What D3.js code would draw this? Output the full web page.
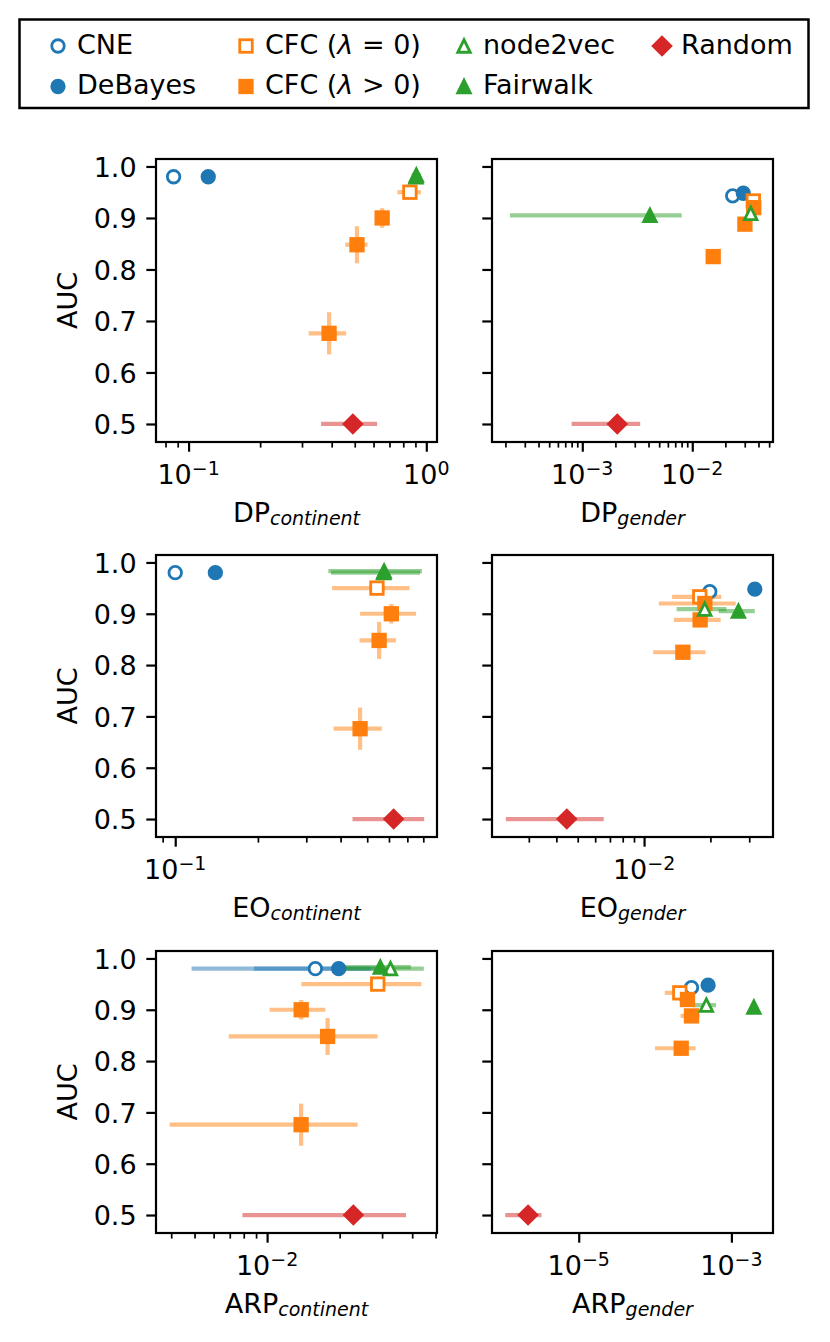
<!DOCTYPE html>
<html>
<head>
<meta charset="utf-8">
<script src="https://cdn.jsdelivr.net/npm/d3@7"></script>
<style>
  body { margin: 0; background: #fff; }
  svg { display: block; }
  text { font-family: "DejaVu Sans", sans-serif; fill: #000; }
</style>
</head>
<body>
<div id="chart"></div>
<script>
// one entry per plotted point, same order in every panel
const pointMethod = ["CNE", "DeBayes", "CFC0", "CFC", "CFC", "CFC", "node2vec", "Fairwalk", "Random"];

// AUC (y) for the continent column and the gender column
const aucContinent    = [0.980, 0.980, 0.950, 0.900, 0.848, 0.676, 0.980, 0.983, 0.500];
const aucContinentErr = [0.002, 0.002, 0.004, 0.019, 0.036, 0.041, 0.002, 0.002, 0.002];
const aucGender       = [0.943, 0.948, 0.933, 0.920, 0.888, 0.825, 0.909, 0.905, 0.500];
const aucGenderErr    = [0.002, 0.002, 0.003, 0.003, 0.003, 0.003, 0.002, 0.002, 0.002];

// fairness metrics (x)
const dpContinent     = [0.0865, 0.121, 0.853, 0.652, 0.511, 0.390, 0.905, 0.908, 0.491];
const dpContinentErr  = [0.001, 0.002, 0.0965, 0.040, 0.055, 0.070, 0.030, 0.040, 0.130];
const dpGender        = [0.0233, 0.0291, 0.0359, 0.0362, 0.0301, 0.0155, 0.0340, 0.00412, 0.00208];
const dpGenderErr     = [0.0004, 0.0005, 0.0010, 0.0010, 0.0012, 0.0006, 0.0010, 0.0039, 0.00128];

const eoContinent     = [0.100, 0.140, 0.5425, 0.612, 0.5525, 0.471, 0.574, 0.576, 0.624];
const eoContinentErr  = [0.001, 0.002, 0.170, 0.141, 0.0835, 0.094, 0.205, 0.215, 0.182];
const eoGender        = [0.01987, 0.0318, 0.0179, 0.01887, 0.01796, 0.0150, 0.01885, 0.0268, 0.00446];
const eoGenderErr     = [0.0003, 0.0004, 0.0045, 0.0072, 0.0043, 0.0040, 0.0048, 0.0050, 0.0021];

const arpContinent    = [0.01586, 0.01982, 0.02878, 0.01385, 0.01783, 0.01384, 0.0325, 0.0295, 0.0228];
const arpContinentErr = [0.0110, 0.0110, 0.0149, 0.0036, 0.0109, 0.0099, 0.0122, 0.0100, 0.0149];
const arpGender       = [3.0e-4, 4.95e-4, 2.11e-4, 2.66e-4, 3.0e-4, 2.2e-4, 4.7e-4, 1.97e-3, 2.17e-6];
const arpGenderErr    = [1e-5, 2e-5, 7.7e-5, 6e-5, 8.4e-5, 1.2e-4, 1.6e-4, 2e-4, 1.08e-6];

const yTicks = [0.5, 0.6, 0.7, 0.8, 0.9, 1.0];

// legend, in column order
const legendMethods = ["CNE", "DeBayes", "CFC0", "CFC", "node2vec", "Fairwalk", "Random"];

const styles = {
  CNE:      { shape: "circle",   color: "#1f77b4", open: true },
  DeBayes:  { shape: "circle",   color: "#1f77b4", open: false },
  CFC0:     { shape: "square",   color: "#ff7f0e", open: true },
  CFC:      { shape: "square",   color: "#ff7f0e", open: false },
  node2vec: { shape: "triangle", color: "#2ca02c", open: true },
  Fairwalk: { shape: "triangle", color: "#2ca02c", open: false },
  Random:   { shape: "diamond",  color: "#d62728", open: false }
};

const W = 830, H = 1342;
const colX = [[156, 437], [492, 773]];
const rowY = [[159, 442], [555, 837], [951, 1233]];

const panels = [
  { row: 0, col: 0, x: dpContinent,  xe: dpContinentErr,  y: aucContinent, ye: aucContinentErr, dom: [-1.137, 0.045],  dec: [-1, 0],  minor: true,  name: "DP",  sub: "continent" },
  { row: 0, col: 1, x: dpGender,     xe: dpGenderErr,     y: aucGender,    ye: aucGenderErr,    dom: [-3.821, -1.266], dec: [-3, -2], minor: true,  name: "DP",  sub: "gender" },
  { row: 1, col: 0, x: eoContinent,  xe: eoContinentErr,  y: aucContinent, ye: aucContinentErr, dom: [-1.070, -0.047], dec: [-1],     minor: true,  name: "EO",  sub: "continent" },
  { row: 1, col: 1, x: eoGender,     xe: eoGenderErr,     y: aucGender,    ye: aucGenderErr,    dom: [-2.690, -1.415], dec: [-2],     minor: true,  name: "EO",  sub: "gender" },
  { row: 2, col: 0, x: arpContinent, xe: arpContinentErr, y: aucContinent, ye: aucContinentErr, dom: [-2.461, -1.295], dec: [-2],     minor: true,  name: "ARP", sub: "continent" },
  { row: 2, col: 1, x: arpGender,    xe: arpGenderErr,    y: aucGender,    ye: aucGenderErr,    dom: [-6.136, -2.455], dec: [-5, -3], minor: false, name: "ARP", sub: "gender" }
];

const FS = 27;
const MS = 12.5;

const svg = d3.select("#chart").append("svg")
  .attr("width", W).attr("height", H)
  .attr("viewBox", `0 0 ${W} ${H}`);

function marker(sel, method, cx, cy) {
  const st = styles[method];
  const h = MS / 2;
  let el;
  if (st.shape === "circle") {
    el = sel.append("circle").attr("cx", cx).attr("cy", cy).attr("r", h);
  } else if (st.shape === "square") {
    el = sel.append("rect").attr("x", cx - h).attr("y", cy - h).attr("width", MS).attr("height", MS);
  } else if (st.shape === "triangle") {
    el = sel.append("path").attr("d", `M${cx},${cy - h}L${cx + h},${cy + h}L${cx - h},${cy + h}Z`);
  } else {
    const d = MS / Math.SQRT2;
    el = sel.append("path").attr("d", `M${cx},${cy - d}L${cx + d},${cy}L${cx},${cy + d}L${cx - d},${cy}Z`);
  }
  el.attr("fill", st.open ? "#fff" : st.color)
    .attr("stroke", st.color)
    .attr("stroke-width", 2.8)
    .attr("stroke-linejoin", "miter");
}

const sup = k => (k < 0 ? "\u2212" + (-k) : String(k));

panels.forEach(p => {
  const [x0, x1] = colX[p.col];
  const [y0, y1] = rowY[p.row];
  const g = svg.append("g");

  const x = d3.scaleLog().domain([10 ** p.dom[0], 10 ** p.dom[1]]).range([x0, x1]);
  const y = d3.scaleLinear().domain([0.465, 1.0145]).range([y1, y0]);

  const majors = p.dec.map(k => 10 ** k);
  const minors = [];
  if (p.minor) {
    for (let k = Math.floor(p.dom[0]); k <= Math.ceil(p.dom[1]); k++) {
      for (let m = 2; m <= 9; m++) {
        const v = m * 10 ** k;
        if (Math.log10(v) >= p.dom[0] && Math.log10(v) <= p.dom[1]) minors.push(v);
      }
    }
  }

  // x ticks
  const gxMinor = g.append("g").attr("transform", `translate(0,${y1})`)
    .call(d3.axisBottom(x).tickValues(minors).tickSize(5.6).tickFormat(""));
  gxMinor.select(".domain").remove();
  gxMinor.selectAll("line").attr("stroke", "#000").attr("stroke-width", 1.7);

  const gxMajor = g.append("g").attr("transform", `translate(0,${y1})`)
    .call(d3.axisBottom(x).tickValues(majors).tickSize(9.7).tickFormat(""));
  gxMajor.select(".domain").remove();
  gxMajor.selectAll("line").attr("stroke", "#000").attr("stroke-width", 2.2);

  // x tick labels as 10^k
  p.dec.forEach(k => {
    const t = g.append("text")
      .attr("x", x(10 ** k)).attr("y", y1 + 42)
      .attr("text-anchor", "middle")
      .attr("font-size", FS);
    t.append("tspan").text("10");
    t.append("tspan").attr("font-size", 19).attr("dy", -9.3).text(sup(k));
  });

  // y axis
  const gy = g.append("g").attr("transform", `translate(${x0},0)`)
    .call(d3.axisLeft(y).tickValues(yTicks).tickSize(9.7).tickPadding(9.7)
      .tickFormat(p.col === 0 ? d3.format(".1f") : ""));
  gy.select(".domain").remove();
  gy.selectAll("line").attr("stroke", "#000").attr("stroke-width", 2.2);
  gy.selectAll("text")
    .attr("font-size", FS)
    .attr("font-family", "DejaVu Sans")
    .attr("fill", "#000")
    .attr("dy", "0.36em");

  // error bars first
  const bars = g.append("g");
  pointMethod.forEach((m, i) => {
    const color = styles[m].color;
    const lo = Math.max(p.x[i] - p.xe[i], 10 ** (p.dom[0] - 1));
    bars.append("line")
      .attr("x1", x(lo)).attr("x2", x(p.x[i] + p.xe[i]))
      .attr("y1", y(p.y[i])).attr("y2", y(p.y[i]))
      .attr("stroke", color).attr("stroke-opacity", 0.5).attr("stroke-width", 4.2);
    bars.append("line")
      .attr("x1", x(p.x[i])).attr("x2", x(p.x[i]))
      .attr("y1", y(p.y[i] - p.ye[i])).attr("y2", y(p.y[i] + p.ye[i]))
      .attr("stroke", color).attr("stroke-opacity", 0.5).attr("stroke-width", 4.2);
  });

  // markers
  const marks = g.append("g");
  pointMethod.forEach((m, i) => marker(marks, m, x(p.x[i]), y(p.y[i])));

  // frame
  g.append("rect")
    .attr("x", x0).attr("y", y0)
    .attr("width", x1 - x0).attr("height", y1 - y0)
    .attr("fill", "none").attr("stroke", "#000").attr("stroke-width", 2.2);

  // x label
  const xl = g.append("text")
    .attr("x", (x0 + x1) / 2).attr("y", y1 + 79.5)
    .attr("text-anchor", "middle")
    .attr("font-size", FS);
  xl.append("tspan").text(p.name);
  xl.append("tspan").attr("font-size", 19).attr("font-style", "italic").attr("dy", 3).text(p.sub);

  // y label
  if (p.col === 0) {
    g.append("text")
      .attr("transform", `translate(76.5,${(y0 + y1) / 2})rotate(-90)`)
      .attr("text-anchor", "middle")
      .attr("font-size", FS)
      .text("AUC");
  }
});

// legend
const lg = svg.append("g");
lg.append("rect")
  .attr("x", 19.5).attr("y", 19.5).attr("width", 789).attr("height", 88.5)
  .attr("fill", "#fff").attr("stroke", "#000").attr("stroke-width", 2.5);

const legMarkX = [58, 246, 464, 662];
const legTextX = [77, 265, 483, 681];
const legRowY = [46, 86.5];

legendMethods.forEach((m, i) => {
  const c = Math.floor(i / 2), r = i % 2;
  marker(lg, m, legMarkX[c], legRowY[r]);
  const t = lg.append("text")
    .attr("x", legTextX[c]).attr("y", legRowY[r] + 7.5)
    .attr("font-size", FS);
  if (m === "CFC0" || m === "CFC") {
    t.append("tspan").text("CFC (");
    t.append("tspan").attr("font-style", "italic").text("\u03bb");
    t.append("tspan").text(m === "CFC0" ? " = 0)" : " > 0)");
  } else {
    t.text(m);
  }
});
</script>
</body>
</html>
